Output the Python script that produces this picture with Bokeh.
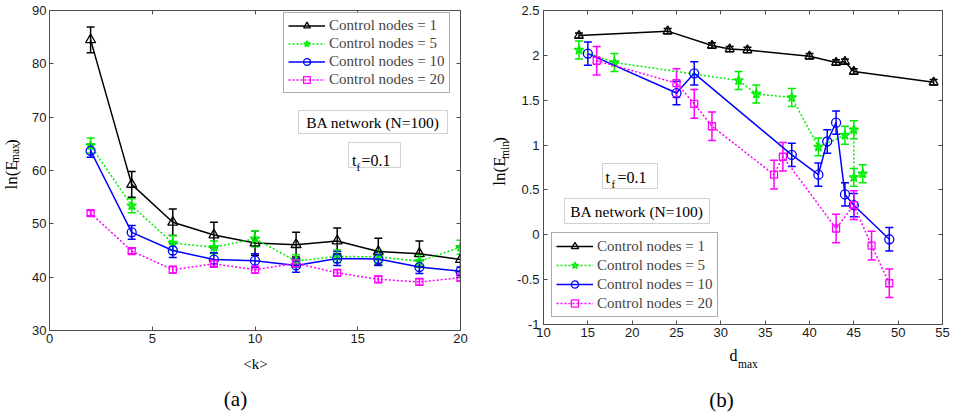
import math
from bokeh.plotting import figure
from bokeh.models import (ColumnDataSource, Whisker, TeeHead, Legend, LegendItem, Label,
                          BoxAnnotation, LinearAxis, FixedTicker, Range1d)
from bokeh.layouts import row, column
from bokeh.embed import file_html
from bokeh.resources import INLINE

# ---------------- data ----------------
series_labels = ["Control nodes = 1", "Control nodes = 5", "Control nodes = 10", "Control nodes = 20"]

# panel (a): ln(E_max) vs <k>
k_vals = [2, 4, 6, 8, 10, 12, 14, 16, 18, 20]
emax_1 = [84.5, 57.4, 50.3, 47.9, 46.4, 46.1, 46.8, 44.8, 44.4, 43.3]
emax_1_err = [2.4, 2.4, 2.5, 2.4, 2.3, 2.3, 2.4, 2.5, 2.4, 2.3]
emax_5 = [64.7, 53.4, 46.4, 45.6, 47.2, 43.0, 43.9, 43.8, 43.0, 45.6]
emax_5_err = [1.4, 1.3, 1.4, 1.2, 1.5, 1.2, 1.2, 1.2, 1.2, 1.3]
emax_10 = [63.7, 48.4, 45.0, 43.3, 43.1, 42.2, 43.5, 43.4, 41.9, 41.1]
emax_10_err = [1.2, 1.3, 1.3, 1.3, 1.3, 1.3, 1.3, 1.2, 1.2, 0.8]
emax_20 = [52.0, 44.9, 41.4, 42.5, 41.4, 42.6, 40.8, 39.6, 39.1, 39.9]
emax_20_err = [0.5, 0.5, 0.6, 0.6, 0.6, 0.6, 0.6, 0.6, 0.6, 0.6]

# panel (b): ln(E_min) vs d_max
dmax_1 = [14, 24, 29, 31, 33, 40, 43, 44, 45, 54]
emin_1 = [2.22, 2.27, 2.11, 2.07, 2.06, 1.99, 1.92, 1.93, 1.82, 1.70]
emin_1_err = [0.03] * 10
dmax_5 = [14, 18, 32, 34, 38, 41, 44, 45, 45, 46]
emin_5 = [2.06, 1.92, 1.72, 1.57, 1.53, 0.98, 1.11, 1.17, 0.64, 0.68]
emin_5_err = [0.10] * 10
dmax_10 = [15, 25, 27, 38, 41, 42, 43, 44, 45, 49]
emin_10 = [2.02, 1.58, 1.80, 0.89, 0.67, 1.04, 1.25, 0.45, 0.33, -0.05]
emin_10_err = [0.13] * 10
dmax_20 = [16, 25, 27, 29, 36, 37, 43, 45, 47, 49]
emin_20 = [1.94, 1.69, 1.46, 1.21, 0.67, 0.87, 0.07, 0.33, -0.12, -0.54]
emin_20_err = [0.16] * 10

left_xticks = [0, 5, 10, 15, 20]
left_yticks = [30, 40, 50, 60, 70, 80, 90]
right_xticks = [10, 15, 20, 25, 30, 35, 40, 45, 50, 55]
right_yticks = [-1, -0.5, 0, 0.5, 1, 1.5, 2, 2.5]
right_ytick_labels = ["-1", "-0.5", "0", "0.5", "1", "1.5", "2", "2.5"]

# ---------------- style ----------------
COLORS = ["#000000", "#00ee00", "#0000ff", "#ff00ff"]
MARKERS = ["triangle", "star", "circle", "square"]
SIZES = [10, 10, 9, 7]
DASHES = ["solid", "2 2", "solid", "2 2"]
FILLS = [None, "#00ee00", None, None]
SERIF = "Liberation Serif"
SANS = "Liberation Sans"
AXC = "#4d4d4d"


class Geo:
    def __init__(self, x0, x1, y0, y1, xr, yr):
        self.x0, self.x1, self.y0, self.y1, self.xr, self.yr = x0, x1, y0, y1, xr, yr

    def X(self, px):
        return self.xr[0] + (px - self.x0) / (self.x1 - self.x0) * (self.xr[1] - self.xr[0])

    def Y(self, py):
        return self.yr[1] - (py - self.y0) / (self.y1 - self.y0) * (self.yr[1] - self.yr[0])


def style_axis(ax, labels=True, standoff=3):
    ax.major_tick_in = 4
    ax.major_tick_out = 0
    ax.minor_tick_line_color = None
    ax.axis_line_color = AXC
    ax.major_tick_line_color = AXC
    ax.major_label_text_font = SANS
    ax.major_label_text_font_size = "13px"
    ax.major_label_text_color = "#1a1a1a"
    ax.major_label_standoff = standoff
    if not labels:
        ax.major_label_text_font_size = "0px"
        ax.major_label_text_color = None
        ax.major_label_standoff = 0


def make_fig(width, height, xr, yr, xticks, yticks, borders, ystandoff=3):
    l, r, t, b = borders
    p = figure(width=width, height=height, x_range=Range1d(*xr), y_range=Range1d(*yr),
               output_backend="svg", toolbar_location=None,
               min_border_left=l, min_border_right=r, min_border_top=t, min_border_bottom=b)
    p.xgrid.visible = False
    p.ygrid.visible = False
    p.outline_line_color = None
    p.background_fill_color = "white"
    p.border_fill_color = "white"
    p.xaxis.ticker = FixedTicker(ticks=xticks)
    p.yaxis.ticker = FixedTicker(ticks=yticks)
    style_axis(p.xaxis[0], True, 3)
    style_axis(p.yaxis[0], True, ystandoff)
    top = LinearAxis(ticker=FixedTicker(ticks=xticks))
    right = LinearAxis(ticker=FixedTicker(ticks=yticks))
    style_axis(top, False)
    style_axis(right, False)
    p.add_layout(top, "above")
    p.add_layout(right, "right")
    return p


def text_fig(x0, x1, y0, y1):
    """Blank figure whose data coordinates equal page pixels (y downwards)."""
    p = figure(width=x1 - x0, height=y1 - y0, x_range=Range1d(x0, x1), y_range=Range1d(y1, y0),
               output_backend="svg", toolbar_location=None,
               min_border_left=0, min_border_right=0, min_border_top=0, min_border_bottom=0)
    p.axis.visible = False
    p.xgrid.visible = False
    p.ygrid.visible = False
    p.outline_line_color = None
    p.background_fill_color = "white"
    p.border_fill_color = "white"
    return p


def draw_series(p, xs, ys, errs, i, msize=None):
    c = COLORS[i]
    src = ColumnDataSource(dict(x=xs, y=ys,
                                upper=[a + e for a, e in zip(ys, errs)],
                                lower=[a - e for a, e in zip(ys, errs)]))
    ln = p.line("x", "y", source=src, line_color=c, line_width=1.5, line_dash=DASHES[i])
    w = Whisker(source=src, base="x", upper="upper", lower="lower", dimension="height",
                line_color=c, line_width=1.5,
                upper_head=TeeHead(size=8, line_color=c, line_width=1.5),
                lower_head=TeeHead(size=8, line_color=c, line_width=1.5))
    p.add_layout(w)
    fill = FILLS[i]
    sc = p.scatter("x", "y", source=src, marker=MARKERS[i], size=msize or SIZES[i],
                   line_color=c, line_width=1.3,
                   fill_color=fill if fill else None, fill_alpha=0.6 if fill else 0)
    return [ln, sc]


def text(p, x, y, s, size="15px", align="left", baseline="alphabetic", angle=0.0):
    p.add_layout(Label(x=x, y=y, text=s, text_font=SERIF, text_font_size=size,
                       text_color="black", text_align=align, text_baseline=baseline,
                       angle=angle))


def box(p, g, x0, y0, x1, y1):
    p.add_layout(BoxAnnotation(left=g.X(x0), right=g.X(x1), top=g.Y(y0), bottom=g.Y(y1),
                               fill_color="white", fill_alpha=1.0,
                               line_color="#666666", line_width=1))


def make_legend(p, items, loc, label_h):
    leg = Legend(items=items, location=loc, label_text_font=SERIF, label_text_font_size="15px",
                 glyph_width=37, glyph_height=label_h, label_height=label_h, label_standoff=4,
                 padding=4, spacing=1, margin=0, border_line_color="#555555", border_line_width=1,
                 background_fill_color="white", background_fill_alpha=1.0)
    p.add_layout(leg)


# ---------------- panel (a) ----------------
gA = Geo(49, 460, 10, 330, (0, 20), (30, 90))
pA = make_fig(463, 352, gA.xr, gA.yr, left_xticks, left_yticks, (22, 30, 10, 22), 3)
A_series = [(emax_1, emax_1_err), (emax_5, emax_5_err), (emax_10, emax_10_err), (emax_20, emax_20_err)]
itemsA = []
for i, (ys, es) in enumerate(A_series):
    r = draw_series(pA, k_vals, ys, es, i)
    itemsA.append(LegendItem(label=series_labels[i], renderers=r))
make_legend(pA, itemsA, (234, 237), 17)

box(pA, gA, 298, 110, 447, 133)
text(pA, gA.X(372.5), gA.Y(122), "BA network (N=100)", "15.5px", "center", "middle")
box(pA, gA, 348, 142, 400, 167)
text(pA, gA.X(351.5), gA.Y(160), "t", "16px")
text(pA, gA.X(356), gA.Y(166.5), "f", "11px")
text(pA, gA.X(361), gA.Y(160), "=0.1", "16px")

yA = text_fig(0, 27, 0, 352)
text(yA, 11, 197, "ln(E", "17px", "left", "middle", math.pi / 2)
text(yA, 14.5, 167.7, "max", "11.5px", "left", "middle", math.pi / 2)
text(yA, 11, 147.9, ")", "17px", "left", "middle", math.pi / 2)

botA = text_fig(0, 490, 352, 413)
text(botA, 255, 363, "<k>", "15px", "center")
text(botA, 235, 398, "(a)", "21px", "center", "middle")

# ---------------- panel (b) ----------------
gB = Geo(543, 942, 10, 324, (10, 55), (-1, 2.5))
pB = make_fig(446, 344, gB.xr, gB.yr, right_xticks, right_yticks, (31, 16, 10, 20), 4)
pB.yaxis[0].major_label_overrides = {float(v): s for v, s in zip(right_yticks, right_ytick_labels)}
B_series = [(dmax_1, emin_1, emin_1_err), (dmax_5, emin_5, emin_5_err),
            (dmax_10, emin_10, emin_10_err), (dmax_20, emin_20, emin_20_err)]
itemsB = []
for i, (xs, ys, es) in enumerate(B_series):
    r = draw_series(pB, xs, ys, es, i, msize=9 if i == 0 else None)
    itemsB.append(LegendItem(label=series_labels[i], renderers=r))
make_legend(pB, itemsB, (8, 7), 18)

box(pB, gB, 602, 163, 657, 188)
text(pB, gB.X(605), gB.Y(177), "t", "16px")
text(pB, gB.X(611), gB.Y(183.5), "f", "11px")
text(pB, gB.X(617), gB.Y(177), "=0.1", "16px")
box(pB, gB, 564, 198, 709, 223)
text(pB, gB.X(636.5), gB.Y(211), "BA network (N=100)", "15.5px", "center", "middle")

yB = text_fig(490, 512, 0, 344)
text(yB, 499, 192, "ln(E", "17px", "left", "middle", math.pi / 2)
text(yB, 504, 162.7, "min", "11.5px", "left", "middle", math.pi / 2)
text(yB, 499, 144.8, ")", "17px", "left", "middle", math.pi / 2)

botB = text_fig(490, 958, 344, 413)
text(botB, 729, 355, "d", "16px")
text(botB, 737.5, 363, "max", "11.5px")
text(botB, 721, 399, "(b)", "21px", "center", "middle")

layout = row(column(row(yA, pA), botA), column(row(yB, pB), botB))
open("out.html", "w").write(file_html(layout, INLINE))
